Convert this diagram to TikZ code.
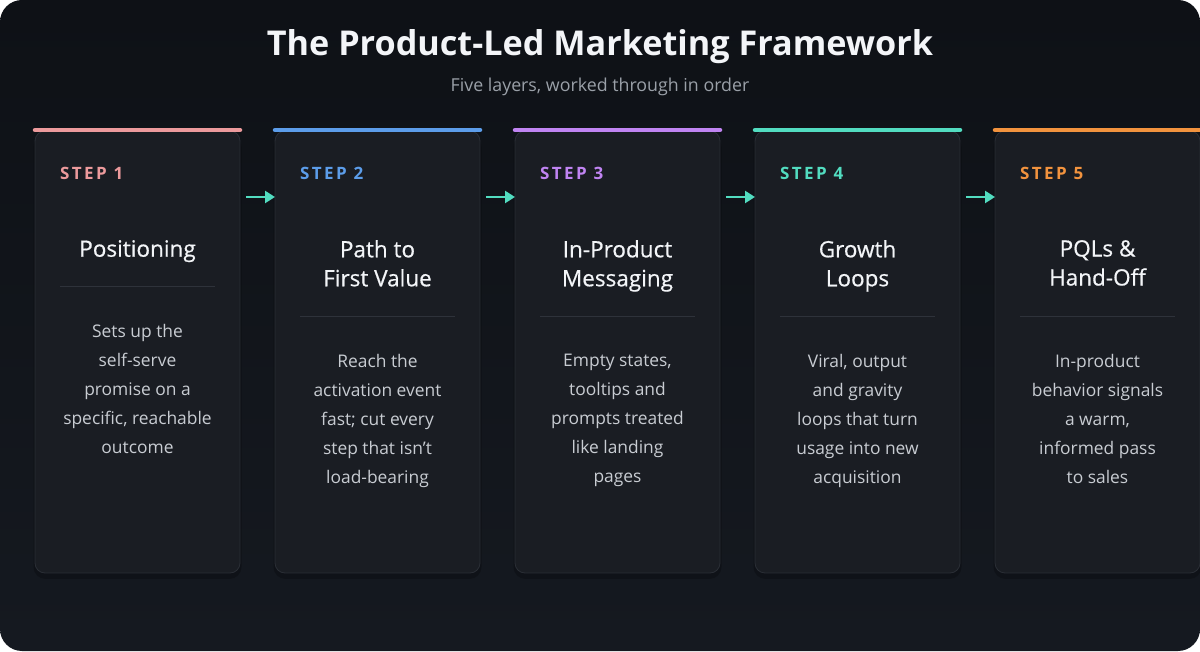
\documentclass[tikz,border=0pt]{standalone}
\usepackage{fontspec}
\setmainfont{Open Sans}
\usepackage{tikz}
\usetikzlibrary{positioning,arrows.meta}

\definecolor{bgtop}{HTML}{0E1116}
\definecolor{bgbot}{HTML}{151920}
\definecolor{cardfill}{HTML}{1A1D23}
\definecolor{cardline}{HTML}{2A2E35}
\definecolor{sepline}{HTML}{2E323A}
\definecolor{headtxt}{HTML}{F3F5F8}
\definecolor{subtxt}{HTML}{9AA0A8}
\definecolor{bodytxt}{HTML}{C8CCD2}
\definecolor{stepA}{HTML}{EC9A9C}
\definecolor{stepB}{HTML}{5C9DEA}
\definecolor{stepC}{HTML}{C084F2}
\definecolor{stepD}{HTML}{52DCC0}
\definecolor{stepE}{HTML}{F2933E}
\definecolor{flowcol}{HTML}{52DCC0}

\begin{document}
\begin{tikzpicture}[
  x=1pt, y=1pt,
  node distance=35pt,
  card/.style={rectangle, draw=cardline, fill=cardfill, rounded corners=10pt,
               minimum width=205pt, minimum height=442pt, inner sep=0pt,
               outer sep=0pt, line width=0.8pt},
  shadowbox/.style={fill=black, opacity=0.22, rounded corners=12pt},
  bar/.style={line width=4.5pt, line cap=round},
  steplbl/.style={anchor=west, inner sep=0pt,
                  font=\fontsize{17}{20}\selectfont\bfseries\addfontfeatures{LetterSpace=14}},
  ttl/.style={anchor=north, inner sep=0pt, align=center, text=headtxt,
              font=\fontsize{22.5}{29}\selectfont\addfontfeatures{FakeBold=0.6}},
  desc/.style={anchor=north, inner sep=0pt, align=center, text=bodytxt,
               font=\fontsize{17.4}{29}\selectfont},
  sep/.style={draw=sepline, line width=1pt},
  flow/.style={draw=flowcol, line width=2.4pt, -{Triangle[length=10pt,width=12pt]}}
]
\useasboundingbox (0,0) rectangle (1200,651);
\fill[white] (0,0) rectangle (1200,651);
\shade[rounded corners=22pt, top color=bgtop, bottom color=bgbot] (0,0) rectangle (1200,651);

% heading
\node[text=headtxt, font=\fontsize{34.2}{40}\selectfont\bfseries] (title) at (600,604) {The Product-Led Marketing Framework};
\node[text=subtxt, font=\fontsize{17.8}{20}\selectfont, below=7pt of title] (sub) {Five layers, worked through in order};

% soft shadows under the cards
\foreach \cx in {137.5,377.5,617.5,857.5,1097.5}
  \fill[shadowbox] (\cx-104,72) rectangle (\cx+104,516);

% cards
\node[card] (c1) at (137.5,299) {};
\node[card, right=of c1] (c2) {};
\node[card, right=of c2] (c3) {};
\node[card, right=of c3] (c4) {};
\node[card, right=of c4] (c5) {};

\draw[bar, stepA] ([yshift=1pt]c1.north west) -- ([yshift=1pt]c1.north east);
\draw[bar, stepB] ([yshift=1pt]c2.north west) -- ([yshift=1pt]c2.north east);
\draw[bar, stepC] ([yshift=1pt]c3.north west) -- ([yshift=1pt]c3.north east);
\draw[bar, stepD] ([yshift=1pt]c4.north west) -- ([yshift=1pt]c4.north east);
\draw[bar, stepE] ([yshift=1pt]c5.north west) -- ([yshift=1pt]c5.north east);

% step 1
\node[steplbl, text=stepA] (s1) at ([xshift=25pt,yshift=-42pt]c1.north west) {STEP 1};
\node[ttl] (t1) at ([yshift=-109pt]c1.north) {Positioning};
\draw[sep] ([xshift=25pt,yshift=-156pt]c1.north west) -- ([xshift=-25pt,yshift=-156pt]c1.north east);
\node[desc] (d1) at ([yshift=-193pt]c1.north) {Sets up the\\self-serve\\promise on a\\specific, reachable\\outcome};

% step 2
\node[steplbl, text=stepB] (s2) at ([xshift=25pt,yshift=-42pt]c2.north west) {STEP 2};
\node[ttl] (t2) at ([yshift=-109pt]c2.north) {Path to\\First Value};
\draw[sep] ([xshift=25pt,yshift=-186pt]c2.north west) -- ([xshift=-25pt,yshift=-186pt]c2.north east);
\node[desc] (d2) at ([yshift=-223pt]c2.north) {Reach the\\activation event\\fast; cut every\\step that isn't\\load-bearing};

% step 3
\node[steplbl, text=stepC] (s3) at ([xshift=25pt,yshift=-42pt]c3.north west) {STEP 3};
\node[ttl] (t3) at ([yshift=-109pt]c3.north) {In-Product\\Messaging};
\draw[sep] ([xshift=25pt,yshift=-186pt]c3.north west) -- ([xshift=-25pt,yshift=-186pt]c3.north east);
\node[desc] (d3) at ([yshift=-223pt]c3.north) {Empty states,\\tooltips and\\prompts treated\\like landing\\pages};

% step 4
\node[steplbl, text=stepD] (s4) at ([xshift=25pt,yshift=-42pt]c4.north west) {STEP 4};
\node[ttl] (t4) at ([yshift=-109pt]c4.north) {Growth\\Loops};
\draw[sep] ([xshift=25pt,yshift=-186pt]c4.north west) -- ([xshift=-25pt,yshift=-186pt]c4.north east);
\node[desc] (d4) at ([yshift=-223pt]c4.north) {Viral, output\\and gravity\\loops that turn\\usage into new\\acquisition};

% step 5
\node[steplbl, text=stepE] (s5) at ([xshift=25pt,yshift=-42pt]c5.north west) {STEP 5};
\node[ttl] (t5) at ([yshift=-109pt]c5.north) {PQLs \&\\Hand-Off};
\draw[sep] ([xshift=25pt,yshift=-186pt]c5.north west) -- ([xshift=-25pt,yshift=-186pt]c5.north east);
\node[desc] (d5) at ([yshift=-223pt]c5.north) {In-product\\behavior signals\\a warm,\\informed pass\\to sales};

% flow arrows
\draw[flow] ([xshift=6pt,yshift=-66pt]c1.north east) -- ([yshift=-66pt]c2.north west);
\draw[flow] ([xshift=6pt,yshift=-66pt]c2.north east) -- ([yshift=-66pt]c3.north west);
\draw[flow] ([xshift=6pt,yshift=-66pt]c3.north east) -- ([yshift=-66pt]c4.north west);
\draw[flow] ([xshift=6pt,yshift=-66pt]c4.north east) -- ([yshift=-66pt]c5.north west);
\end{tikzpicture}
\end{document}
